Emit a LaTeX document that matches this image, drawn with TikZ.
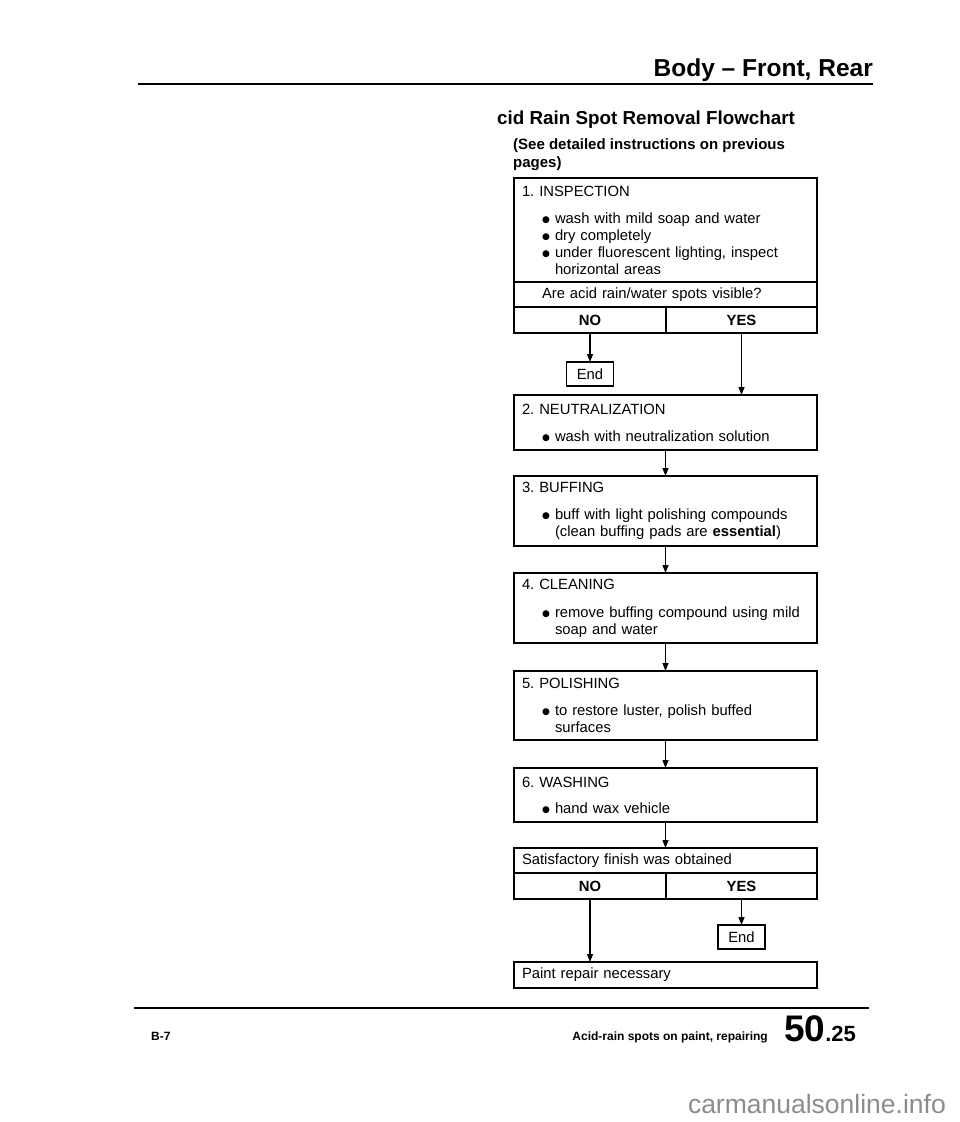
\documentclass[tikz,border=0pt]{standalone}
\usepackage{fontspec}
\setmainfont{Liberation Sans}
\newfontfamily\symf{DejaVu Sans}
\usetikzlibrary{arrows.meta, positioning}
\definecolor{wmgray}{RGB}{140,140,140}
\frenchspacing
\newcommand{\txt}{\fontsize{14.8pt}{17pt}\selectfont}
\newcommand{\blt}{\raisebox{1pt}{\symf\fontsize{9pt}{9pt}\selectfont ●}}
\newcommand{\itm}{\hspace*{20pt}\makebox[13pt][l]{\blt}}
\newcommand{\cont}{\hspace*{33pt}}

\begin{document}
\begin{tikzpicture}[x=1pt, y=1pt,
      box/.style={rectangle, draw, line width=1.5pt, outer sep=0pt, inner xsep=8pt, inner ysep=3pt, text width=287pt, align=left, font=\txt},
      cell/.style={rectangle, draw, line width=1.5pt, outer sep=0pt, inner sep=0pt, minimum height=26pt, font=\txt\bfseries},
      endbox/.style={rectangle, draw, line width=1.5pt, outer sep=0pt, inner sep=0pt, minimum width=47pt, minimum height=24pt, font=\txt},
      arr/.style={-{Triangle[length=8pt, width=6pt]}, line width=1.3pt},
      rule/.style={line width=2.6pt}]
    \useasboundingbox (0,0) rectangle (960,-1122);
    \fill[white] (0,0) rectangle (960,-1122);
    \node[anchor=base east, inner sep=0pt, font=\bfseries\fontsize{24.5pt}{28pt}\selectfont] (hdr) at (873,-76) {Body -- Front, Rear};
    \draw[rule] (138,-84) -- (873,-84);
    \node[anchor=base west, inner sep=0pt, font=\bfseries\fontsize{18.8pt}{22pt}\selectfont] (ttl) at (497,-124) {cid Rain Spot Removal Flowchart};
    \node[anchor=north west, inner sep=0pt, align=left, font=\bfseries\fontsize{15pt}{18pt}\selectfont] (sub) at (513,-138) {(See detailed instructions on previous\\pages)};
    % first check
    \node[box, anchor=north west, minimum height=104pt] (insp) at (514,-178) {1. INSPECTION\\[10pt]
      \itm wash with mild soap and water\\
      \itm dry completely\\
      \itm under fluorescent lighting, inspect\\
      \cont horizontal areas};
    \node[box, minimum height=25pt, below=0pt of insp] (q1) {\hspace*{20pt}Are acid rain/water spots visible?};
    \node[cell, minimum width=152pt, below right=0pt and 0pt of q1.south west] (no1) {NO};
    \node[cell, minimum width=151pt, right=0pt of no1] (yes1) {YES};
    \node[endbox, below=29pt of no1] (end1) {End};
    % treatment steps
    \node[box, minimum height=55pt, below right=62pt and 0pt of no1.south west] (neut) {2. NEUTRALIZATION\\[10pt]
      \itm wash with neutralization solution};
    \node[box, minimum height=70pt, below=26pt of neut] (buff) {3. BUFFING\\[10pt]
      \itm buff with light polishing compounds\\
      \cont (clean buffing pads are \textbf{essential})};
    \node[box, minimum height=70pt, below=27pt of buff] (clean) {4. CLEANING\\[11pt]
      \itm remove buffing compound using mild\\
      \cont soap and water};
    \node[box, minimum height=69pt, below=28pt of clean] (pol) {5. POLISHING\\[10pt]
      \itm to restore luster, polish buffed\\
      \cont surfaces};
    \node[box, minimum height=54pt, below=28pt of pol] (wash) {6. WASHING\\[9pt]
      \itm hand wax vehicle};
    % final check
    \node[box, minimum height=25pt, below=26pt of wash] (sat) {Satisfactory finish was obtained};
    \node[cell, minimum width=152pt, below right=0pt and 0pt of sat.south west] (no2) {NO};
    \node[cell, minimum width=151pt, right=0pt of no2] (yes2) {YES};
    \node[endbox, below=26pt of yes2] (end2) {End};
    \node[box, minimum height=26pt, below right=63pt and 0pt of no2.south west] (paint) {Paint repair necessary};
    \draw[arr] (no1) -- (end1);
    \draw[arr] (yes1) -- (yes1 |- neut.north);
    \draw[arr] (neut) -- (buff);
    \draw[arr] (buff) -- (clean);
    \draw[arr] (clean) -- (pol);
    \draw[arr] (pol) -- (wash);
    \draw[arr] (wash) -- (sat);
    \draw[arr] (yes2) -- (end2);
    \draw[arr] (no2) -- (no2 |- paint.north);
    % footer
    \draw[rule] (134,-1008) -- (869,-1008);
    \node[anchor=base west, inner sep=0pt, font=\bfseries\fontsize{12pt}{14pt}\selectfont] (pg) at (151,-1040) {B-7};
    \node[anchor=base east, inner sep=0pt, font=\bfseries\fontsize{12pt}{14pt}\selectfont] (sect) at (768,-1040) {Acid-rain spots on paint, repairing};
    \node[anchor=base west, inner sep=0pt, font=\bfseries] (num) at (784,-1041) {{\fontsize{37pt}{37pt}\selectfont 50}{\fontsize{22pt}{22pt}\selectfont .25}};
    \node[anchor=base east, inner sep=0pt, text=wmgray, font=\fontsize{26.5pt}{28pt}\selectfont] (wm) at (946,-1113) {carmanualsonline.info};
  \end{tikzpicture}
\end{document}
